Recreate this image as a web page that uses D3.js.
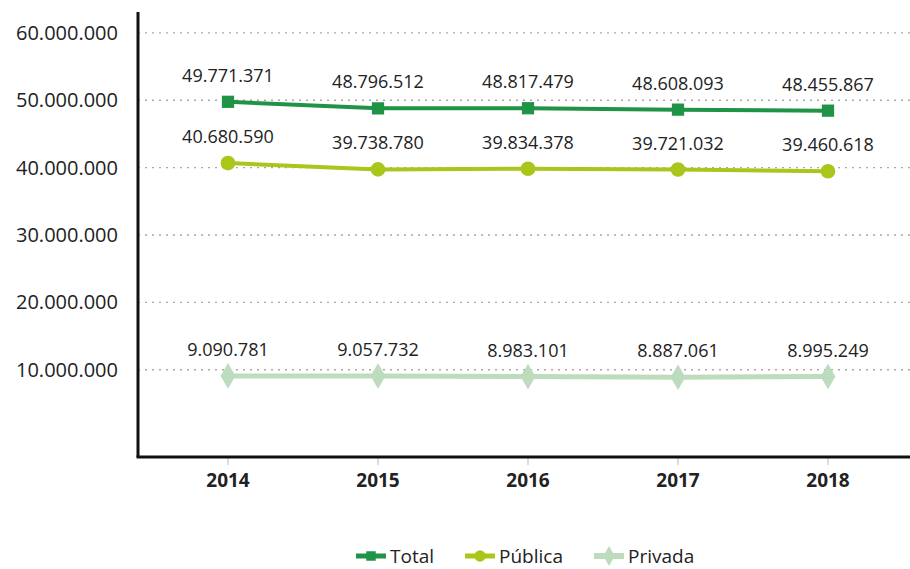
<!DOCTYPE html>
<html lang="es">
<head>
<meta charset="UTF-8">
<title>Matrícula 2014-2018</title>
<script src="https://d3js.org/d3.v7.min.js"></script>
<style>
  body { margin: 0; background: #fff; }
  text { font-family: "Open Sans", "DejaVu Sans", sans-serif; fill: #222; }
</style>
</head>
<body>
<svg id="chart" width="910" height="569"></svg>
<script>
// data
const years = ["2014", "2015", "2016", "2017", "2018"];
const total   = [49771371, 48796512, 48817479, 48608093, 48455867];
const publica = [40680590, 39738780, 39834378, 39721032, 39460618];
const privada = [9090781, 9057732, 8983101, 8887061, 8995249];
const yTicks  = [10000000, 20000000, 30000000, 40000000, 50000000, 60000000];

const series = [
  { name: "Total",   values: total,   color: "#1f9346", shape: d3.symbolSquare,  size: 150, width: 4 },
  { name: "Pública", values: publica, color: "#a9c61b", shape: d3.symbolCircle,  size: 170, width: 4 },
  { name: "Privada", values: privada, color: "#bddcbd", shape: d3.symbolDiamond, size: 190, width: 5 }
];

const svg = d3.select("#chart");
const plotLeft = 138, plotRight = 910, plotTop = 12, plotBottom = 457;

const x = d3.scalePoint().domain(years).range([228, 828]);
const y = d3.scaleLinear().domain([-2950000, 63100000]).range([plotBottom, plotTop]);

const fmt = v => d3.format(",")(v).replace(/,/g, ".");

// gridlines
svg.append("g")
  .selectAll("line")
  .data(yTicks)
  .join("line")
  .attr("x1", plotLeft).attr("x2", plotRight)
  .attr("y1", d => y(d)).attr("y2", d => y(d))
  .attr("stroke", "#a8a8a8")
  .attr("stroke-width", 1.3)
  .attr("stroke-dasharray", "2,5");

// y labels
svg.append("g")
  .selectAll("text")
  .data(yTicks)
  .join("text")
  .attr("x", 118)
  .attr("y", d => y(d) + 7)
  .attr("text-anchor", "end")
  .style("font-size", "20px")
  .text(fmt);

// x axis ticks + labels
svg.append("g")
  .selectAll("line")
  .data(years)
  .join("line")
  .attr("x1", d => x(d)).attr("x2", d => x(d))
  .attr("y1", plotBottom).attr("y2", plotBottom + 8)
  .attr("stroke", "#bbb");

svg.append("g")
  .selectAll("text")
  .data(years)
  .join("text")
  .attr("x", d => x(d))
  .attr("y", plotBottom + 30)
  .attr("text-anchor", "middle")
  .style("font-size", "19px")
  .style("font-weight", "bold")
  .text(d => d);

// axis lines
svg.append("line")
  .attr("x1", plotLeft).attr("x2", plotLeft).attr("y1", plotTop).attr("y2", plotBottom)
  .attr("stroke", "#111").attr("stroke-width", 3);
svg.append("line")
  .attr("x1", plotLeft - 1.5).attr("x2", plotRight).attr("y1", plotBottom).attr("y2", plotBottom)
  .attr("stroke", "#111").attr("stroke-width", 3);

// series
const line = d3.line().x((d, i) => x(years[i])).y(d => y(d));

series.slice().reverse().forEach(s => {
  const g = svg.append("g");
  g.append("path")
    .datum(s.values)
    .attr("d", line)
    .attr("fill", "none")
    .attr("stroke", s.color)
    .attr("stroke-width", s.width);
  g.selectAll("path.m")
    .data(s.values)
    .join("path")
    .attr("class", "m")
    .attr("transform", (d, i) => `translate(${x(years[i])},${y(d)})`)
    .attr("d", d3.symbol(s.shape, s.size))
    .attr("fill", s.color);
  g.selectAll("text")
    .data(s.values)
    .join("text")
    .attr("x", (d, i) => x(years[i]))
    .attr("y", d => y(d) - 20)
    .attr("text-anchor", "middle")
    .style("font-size", "18px")
    .text(fmt);
});

// legend
const legend = svg.append("g").attr("transform", "translate(356,556)");
let lx = 0;
series.forEach(s => {
  const g = legend.append("g").attr("transform", `translate(${lx},0)`);
  g.append("line")
    .attr("x1", 0).attr("x2", 30).attr("y1", 0).attr("y2", 0)
    .attr("stroke", s.color).attr("stroke-width", s.width + 1);
  g.append("path")
    .attr("transform", "translate(15,0)")
    .attr("d", d3.symbol(s.shape, s.size * 0.6))
    .attr("fill", s.color);
  const t = g.append("text")
    .attr("x", 34).attr("y", 7)
    .style("font-size", "19px")
    .text(s.name);
  lx += 34 + t.node().getComputedTextLength() + 31;
});
</script>
</body>
</html>
